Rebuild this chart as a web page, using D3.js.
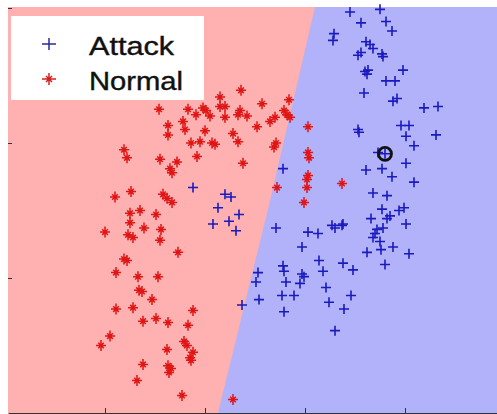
<!DOCTYPE html>
<html>
<head>
<meta charset="utf-8">
<script src="https://cdn.jsdelivr.net/npm/d3@7"></script>
<style>
  body { margin: 0; background: #fff; }
  svg { display: block; }
  .legend text { font-family: "Liberation Sans", Arial, sans-serif; font-size: 26px; fill: #111; stroke: #111; stroke-width: 0.4px; }
</style>
</head>
<body>
<svg class="chart"></svg>
<script>
// feature 1 / feature 2 of the "Normal" class
var normalX = [2.36,2.15,2.57,1.54,1.83,1.98,2.01,1.91,2.05,2.15,2.20,2.20,2.35,2.33,2.42,2.52,1.63,1.78,1.80,2.00,
  1.63,2.28,2.33,1.86,1.95,2.07,2.10,1.19,1.22,1.92,1.55,1.72,1.65,1.67,2.38,1.26,1.10,1.58,1.62,1.67,
  2.84,2.79,2.82,2.85,2.70,2.65,3.03,2.71,2.69,3.03,3.04,3.03,3.02,3.02,2.72,3.37,2.99,
  1.25,1.35,1.51,1.25,1.00,1.23,1.28,1.39,1.56,1.55,1.73,1.19,1.22,1.11,1.33,1.53,1.34,1.37,1.47,
  1.11,1.28,1.88,1.38,1.51,1.63,1.83,1.05,0.96,1.79,1.82,1.62,1.88,1.85,1.86,1.38,1.63,1.66,1.64,1.32,1.77,2.28];
var normalY = [2.39,2.34,2.29,2.25,2.25,2.26,2.24,2.21,2.20,2.27,2.27,2.19,2.24,2.21,2.20,2.12,2.13,2.16,2.10,2.09,
  2.06,2.07,2.01,2.00,2.01,2.00,1.99,1.95,1.89,1.90,1.88,1.86,1.81,1.78,1.85,1.64,1.60,1.62,1.59,1.56,
  2.32,2.24,2.21,2.19,2.19,2.16,2.12,2.00,1.97,1.93,1.89,1.76,1.73,1.67,1.67,1.70,1.56,
  1.48,1.50,1.47,1.41,1.34,1.32,1.30,1.37,1.36,1.28,1.19,1.14,1.13,1.04,1.01,1.01,0.91,0.90,0.84,
  0.77,0.78,0.76,0.68,0.70,0.67,0.65,0.57,0.50,0.53,0.50,0.47,0.45,0.41,0.39,0.36,0.35,0.33,0.30,0.24,0.13,0.10];

// feature 1 / feature 2 of the "Attack" class
var attackX = [3.45,3.75,3.56,3.81,3.87,3.29,3.28,3.61,3.65,3.68,3.56,3.53,3.77,3.78,3.60,3.63,3.62,3.98,3.81,3.90,
  3.59,3.88,3.92,4.19,4.33,3.53,3.54,3.96,4.04,4.01,4.31,4.09,3.73,3.80,4.01,2.78,3.61,3.77,3.87,4.09,
  3.68,3.82,1.88,2.20,2.26,2.13,2.34,2.24,2.08,2.31,3.77,3.94,3.99,3.66,3.82,3.85,4.01,2.71,3.03,3.13,
  3.27,3.30,3.38,3.37,3.78,3.72,3.70,3.68,3.75,3.76,3.88,3.62,4.04,3.80,2.97,3.14,3.38,3.48,3.18,2.53,
  2.51,2.78,2.79,2.97,2.99,2.95,2.81,3.21,2.54,2.77,2.89,3.46,3.24,2.37,2.79,3.39,3.30];
var attackY = [2.97,2.99,2.89,2.90,2.83,2.81,2.76,2.75,2.73,2.70,2.67,2.65,2.66,2.64,2.53,2.54,2.51,2.54,2.46,2.46,
  2.37,2.31,2.33,2.26,2.27,2.10,2.08,2.13,2.13,2.05,2.06,1.98,1.93,1.92,1.85,1.81,1.80,1.81,1.75,1.71,
  1.63,1.61,1.67,1.62,1.60,1.52,1.47,1.42,1.40,1.35,1.51,1.50,1.52,1.44,1.44,1.46,1.40,1.37,1.34,1.33,
  1.39,1.37,1.40,1.39,1.37,1.36,1.33,1.30,1.27,1.21,1.23,1.19,1.18,1.10,1.23,1.13,1.11,1.06,1.05,1.04,
  0.97,1.09,1.05,1.03,1.01,0.96,0.97,0.93,0.84,0.87,0.87,0.87,0.82,0.80,0.75,0.77,0.61];

// decision boundary (points along it, bottom to top)
var boundaryX = [2.13, 2.64, 3.10];
var boundaryY = [0, 1.54, 3];

// sample that is circled
var markedX = [3.80];
var markedY = [1.92];

var legendLabels = ["Attack", "Normal"];
var xTicks = [1, 2, 3, 4];
var yTicks = [1, 2, 3];

var width = 497, height = 414;

var x = d3.scaleLinear().domain([0.03, 4.92]).range([8, 497]);
var y = d3.scaleLinear().domain([0, 3]).range([413, 8]);

var svg = d3.select(".chart")
    .attr("width", width)
    .attr("height", height);

svg.append("rect")
    .attr("x", x.range()[0])
    .attr("y", y.range()[1] - 1)
    .attr("width", x.range()[1] - x.range()[0])
    .attr("height", y.range()[0] - y.range()[1] + 1)
    .attr("fill", "#b2b2fb");

// pink region left of the boundary
var region = boundaryX.map(function(d, i) { return [d, boundaryY[i]]; });
region = [[x.domain()[0], 0]].concat(region).concat([[x.domain()[0], 3]]);
svg.append("path")
    .attr("d", d3.line()
        .x(function(d) { return x(d[0]); })
        .y(function(d) { return d[1] >= 3 ? y(d[1]) - 1 : y(d[1]); })(region) + "Z")
    .attr("fill", "#ffb0b0");

var plus = "M-5,0H5M0,-5V5";
var star = "M-5,0H5M0,-5.5V5.5M-2.8,-2.8L2.8,2.8M-2.8,2.8L2.8,-2.8";

var normal = normalX.map(function(d, i) { return {x: d, y: normalY[i]}; });
var attack = attackX.map(function(d, i) { return {x: d, y: attackY[i]}; });

svg.append("g").selectAll("path")
    .data(normal)
  .enter().append("path")
    .attr("transform", function(d) { return "translate(" + x(d.x) + "," + y(d.y) + ")"; })
    .attr("d", star)
    .attr("stroke", "#e01515")
    .attr("stroke-width", 1.5)
    .attr("fill", "none");

svg.append("g").selectAll("path")
    .data(attack)
  .enter().append("path")
    .attr("transform", function(d) { return "translate(" + x(d.x) + "," + y(d.y) + ")"; })
    .attr("d", plus)
    .attr("stroke", "#1a1abe")
    .attr("stroke-width", 1.6)
    .attr("fill", "none");

svg.append("g").selectAll("circle")
    .data(markedX)
  .enter().append("circle")
    .attr("cx", function(d) { return x(d); })
    .attr("cy", function(d, i) { return y(markedY[i]); })
    .attr("r", 6.5)
    .attr("fill", "none")
    .attr("stroke", "#111")
    .attr("stroke-width", 2.8);

// axes, ticks pointing inward, no labels
svg.append("g")
    .attr("transform", "translate(0," + y.range()[0] + ")")
    .call(d3.axisBottom(x).tickValues(xTicks).tickFormat("").tickSize(-5).tickSizeOuter(0))
    .call(function(g) { g.selectAll("line, path").attr("stroke", "#333"); });

svg.append("g")
    .attr("transform", "translate(" + x.range()[0] + ",0)")
    .call(d3.axisLeft(y).tickValues(yTicks).tickFormat("").tickSize(-4).tickSizeOuter(0))
    .call(function(g) { g.select(".domain").remove(); g.selectAll("line").attr("stroke", "#333"); });

// legend
var legend = svg.append("g").attr("class", "legend");
legend.append("rect")
    .attr("x", 11).attr("y", 16)
    .attr("width", 193).attr("height", 84)
    .attr("fill", "#fff");

var items = legend.selectAll("g.item")
    .data(legendLabels)
  .enter().append("g")
    .attr("class", "item")
    .attr("transform", function(d, i) { return "translate(0," + (44 + i * 35) + ")"; });

items.append("path")
    .attr("transform", "translate(49,0)")
    .attr("d", function(d, i) { return i == 0 ? "M-7,0H7M0,-6V6" : "M-7,0H7M0,-6V6M-3,-3L3,3M-3,3L3,-3"; })
    .attr("stroke", function(d, i) { return i == 0 ? "#2a2a9a" : "#d42020"; })
    .attr("stroke-width", 1.5)
    .attr("fill", "none");

items.append("text")
    .attr("x", 89)
    .attr("y", 11)
    .attr("textLength", function(d, i) { return i == 0 ? 85 : 94; })
    .attr("lengthAdjust", "spacingAndGlyphs")
    .text(function(d) { return d; });
</script>
</body>
</html>
